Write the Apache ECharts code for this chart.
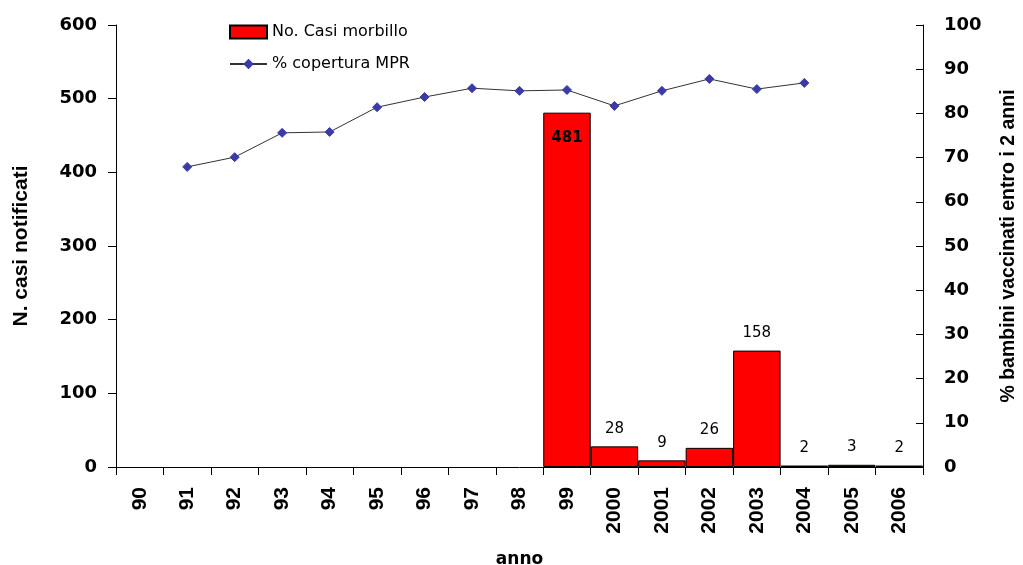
<!DOCTYPE html>
<html><head><meta charset="utf-8">
<script src="https://cdn.jsdelivr.net/npm/echarts@6/dist/echarts.min.js"></script>
<style>html,body{margin:0;padding:0;background:#fff}#c{width:1023px;height:565px}</style>
</head><body><div id="c"></div>
<script>
const categories = ['90','91','92','93','94','95','96','97','98','99','2000','2001','2002','2003','2004','2005','2006'];
const casi = [null,null,null,null,null,null,null,null,null,481,28,9,26,158,2,3,2];
const copertura = [null,67.9,70.1,75.6,75.8,81.4,83.7,85.7,85.1,85.3,81.7,85.1,87.8,85.5,86.9,null,null];
const leftTicks = [0,100,200,300,400,500,600];
const rightTicks = [0,10,20,30,40,50,60,70,80,90,100];

const F = 'Liberation Sans, Arial, sans-serif';
const W = 'DejaVu Sans, sans-serif';
const chart = echarts.init(document.getElementById('c'), null, {renderer:'canvas'});
const barData = casi.map(v => v===481 ? {value:v, label:{position:'insideTop', distance:18, fontWeight:'bold'}} : v);
chart.setOption({
  animation:false,
  backgroundColor:'#fff',
  textStyle:{fontFamily:W},
  legend:{
    left:224, top:19, orient:'vertical', itemGap:16, itemWidth:37, itemHeight:13,
    textStyle:{fontFamily:W, fontSize:16, color:'#000'},
    data:[
      {name:'No. Casi morbillo', icon:'rect'},
      {name:'% copertura MPR'}
    ]
  },
  grid:{left:116, right:100, top:25, bottom:98, containLabel:false, outerBoundsMode:'none'},
  xAxis:{
    type:'category', data:categories, boundaryGap:true,
    name:'anno', nameLocation:'middle', nameGap:84,
    nameTextStyle:{fontFamily:W, fontSize:17, fontWeight:'bold', color:'#000'},
    axisLine:{lineStyle:{color:'#000', width:1}},
    axisTick:{show:true, length:8, alignWithLabel:false, lineStyle:{color:'#000'}},
    axisLabel:{rotate:90, margin:20, fontFamily:F, fontSize:21, fontWeight:'bold', color:'#000', interval:0}
  },
  yAxis:[
    {type:'value', min:0, max:600, interval:100, position:'left',
     name:'N. casi notificati', nameLocation:'middle', nameGap:84, nameRotate:90,
     nameTextStyle:{fontFamily:F, fontSize:21, fontWeight:'bold', color:'#000'},
     axisLine:{show:true, lineStyle:{color:'#000'}},
     axisTick:{show:true, length:8, lineStyle:{color:'#000'}},
     splitLine:{show:false},
     axisLabel:{margin:19, fontFamily:W, fontSize:18, fontWeight:'bold', color:'#000',
       formatter:v=>leftTicks.includes(v)?String(v):''}},
    {type:'value', min:0, max:100, interval:10, position:'right',
     name:'% bambini vaccinati entro i 2 anni', nameLocation:'middle', nameGap:76, nameRotate:90,
     nameTextStyle:{fontFamily:F, fontSize:19.5, fontWeight:'bold', color:'#000'},
     axisLine:{show:true, lineStyle:{color:'#000'}},
     axisTick:{show:true, inside:true, length:7, lineStyle:{color:'#000'}},
     splitLine:{show:false},
     axisLabel:{margin:21, fontFamily:W, fontSize:18, fontWeight:'bold', color:'#000',
       formatter:v=>rightTicks.includes(v)?String(v):''}}
  ],
  series:[
    {name:'No. Casi morbillo', type:'bar', yAxisIndex:0, data:barData, barCategoryGap:'0%', barWidth:'100%',
     itemStyle:{color:'#ff0000', borderColor:'#000', borderWidth:1},
     label:{show:true, position:'top', distance:10, fontFamily:W, fontSize:15, color:'#000'}
    },
    {name:'% copertura MPR', type:'line', yAxisIndex:1, data:copertura, connectNulls:false,
     symbol:'diamond', symbolSize:9, showSymbol:true,
     lineStyle:{color:'#333', width:1},
     itemStyle:{color:'#3a3aa8', borderColor:'#3a3aa8'},
     z:5}
  ]
});
</script></body></html>
